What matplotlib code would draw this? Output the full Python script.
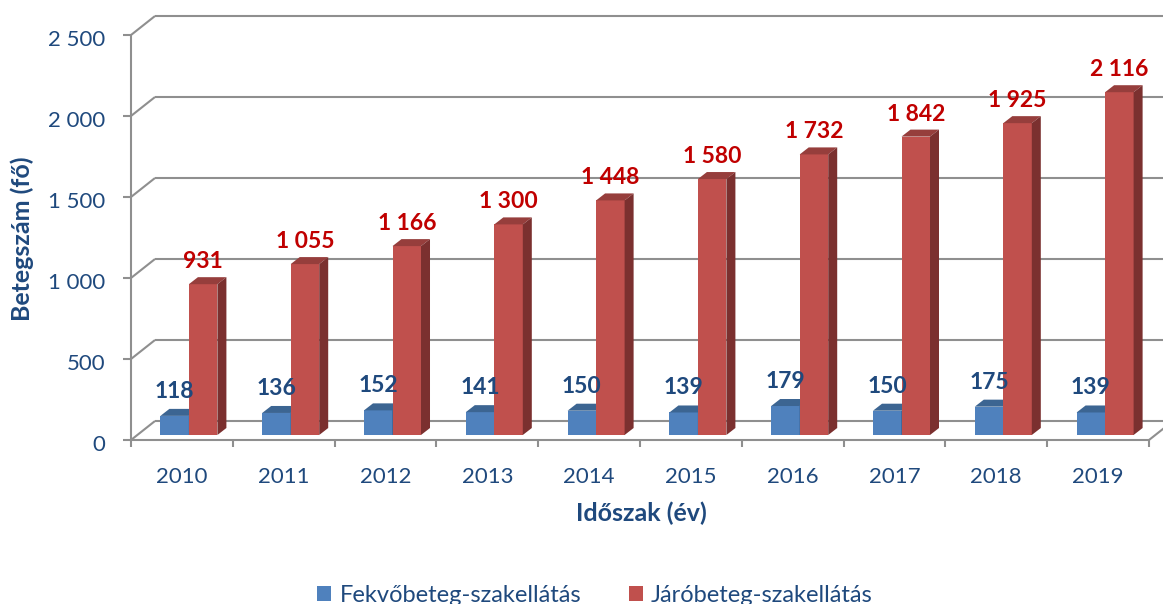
import numpy as np
import matplotlib
matplotlib.use('Agg')
import matplotlib.pyplot as plt
from matplotlib.patches import Polygon, Patch
from matplotlib.transforms import offset_copy

plt.rcParams['font.family'] = ['Lato', 'DejaVu Sans']

# data
years = ['2010', '2011', '2012', '2013', '2014', '2015', '2016', '2017', '2018', '2019']
fekvo = [118, 136, 152, 141, 150, 139, 179, 150, 175, 139]
jaro = [931, 1055, 1166, 1300, 1448, 1580, 1732, 1842, 1925, 2116]
yticks = [0, 500, 1000, 1500, 2000, 2500]
series_names = ['Fekvőbeteg-szakellátás', 'Járóbeteg-szakellátás']

# colours
navy = '#1F497D'
grid = '#8F8F8F'
blue = ('#4F81BD', '#3C6592', '#2F5580')   # front, top, side
red = ('#C0504D', '#963E3C', '#7B302F')

# pseudo-3d offsets in pixels (front plane -> bar plane, bar depth, back wall)
BAR = (7, 5)
DEPTH = (9, 7)
BACK = (24, 19)


def fmt(v):
    return f'{v:,}'.replace(',', ' ')


fig = plt.figure(figsize=(11.63, 6.04), dpi=100)
ax = fig.add_axes([131 / 1163, 164 / 604, 1018 / 1163, 405 / 604])
ax.set_xlim(-0.5, len(years) - 0.5)
ax.set_ylim(0, 2500)
ax.axis('off')


def shift(xs, ys, d):
    # move data points by a pixel offset, return data coords again
    pts = ax.transData.transform(np.column_stack([xs, ys]))
    return ax.transData.inverted().transform(pts + np.asarray(d, float))


line_kw = dict(color=grid, lw=1.5, clip_on=False, solid_capstyle='butt', zorder=1)
x_left, x_right = ax.get_xlim()

# back wall gridlines, left wall diagonals, y ticks and labels
for v in yticks:
    back = shift([x_left, x_right], [v, v], BACK)
    ax.plot(back[:, 0], back[:, 1], **line_kw)
    ax.plot([x_left, back[0, 0]], [v, back[0, 1]], **line_kw)
    tick = shift([x_left], [v], (-8, 0))[0]
    ax.plot([tick[0], x_left], [v, v], **line_kw)
    ax.annotate(fmt(v), (x_left, v), xytext=(-26, -11), textcoords='offset pixels',
                ha='right', va='baseline', fontsize=16, color=navy)

# front axis lines
ax.plot([x_left, x_left], [0, 2500], **line_kw)
ax.plot([x_left, x_right], [0, 0], **line_kw)
corner = shift([x_right], [0], BACK)[0]
ax.plot([x_right, corner[0]], [0, corner[1]], **line_kw)
for k in range(len(years) + 1):
    p = shift([k - 0.5], [0], (0, -7))[0]
    ax.plot([k - 0.5, k - 0.5], [0, p[1]], **line_kw)

for i, yr in enumerate(years):
    ax.annotate(yr, (i, 0), xytext=(0, -43), textcoords='offset pixels',
                ha='center', va='baseline', fontsize=16, color=navy)

# bars
x = np.arange(len(years))
w = 0.28
trans_bar = offset_copy(ax.transData, fig=fig, x=BAR[0], y=BAR[1], units='dots')
bd = (BAR[0] + DEPTH[0], BAR[1] + DEPTH[1])


def draw_bars(x0s, vals, cols, z, label_col, label_off):
    ax.bar(x0s, vals, w, align='edge', color=cols[0], transform=trans_bar,
           clip_on=False, zorder=z)
    for x0, h in zip(x0s, vals):
        x1 = x0 + w
        top = np.vstack([shift([x0, x1], [h, h], BAR), shift([x1, x0], [h, h], bd)])
        side = np.vstack([shift([x1, x1], [0, h], BAR), shift([x1, x1], [h, 0], bd)])
        ax.add_patch(Polygon(top, closed=True, fc=cols[1], ec='none', zorder=z, clip_on=False))
        ax.add_patch(Polygon(side, closed=True, fc=cols[2], ec='none', zorder=z, clip_on=False))
        c = shift([x0 + w / 2], [h], BAR)[0]
        ax.annotate(fmt(h), c, xytext=(0, label_off), textcoords='offset pixels',
                    ha='center', va='baseline', fontsize=16.5, fontweight='bold',
                    color=label_col, zorder=5)


draw_bars(x - w, fekvo, blue, 2, navy, 18)
draw_bars(x, jaro, red, 3, '#C00000', 16)

# axis titles
fig.text(22 / 1163, 1 - 239 / 604, 'Betegszám (fő)', rotation=90, ha='center', va='center',
         fontsize=18, fontweight='bold', color=navy)
fig.text(641 / 1163, 1 - 513 / 604, 'Időszak (év)', ha='center', va='center',
         fontsize=18, fontweight='bold', color=navy)

# legend (cut by the bottom edge, as in the source image)
handles = [Patch(fc=blue[0], label=series_names[0]), Patch(fc=red[0], label=series_names[1])]
fig.legend(handles=handles, loc='center', bbox_to_anchor=(595 / 1163, 1 - 595 / 604),
           ncol=2, frameon=False, fontsize=17, handlelength=0.6, handleheight=0.6,
           handletextpad=0.35, columnspacing=2.0, borderpad=0, labelcolor=navy)

fig.savefig('out.png', dpi=100)
